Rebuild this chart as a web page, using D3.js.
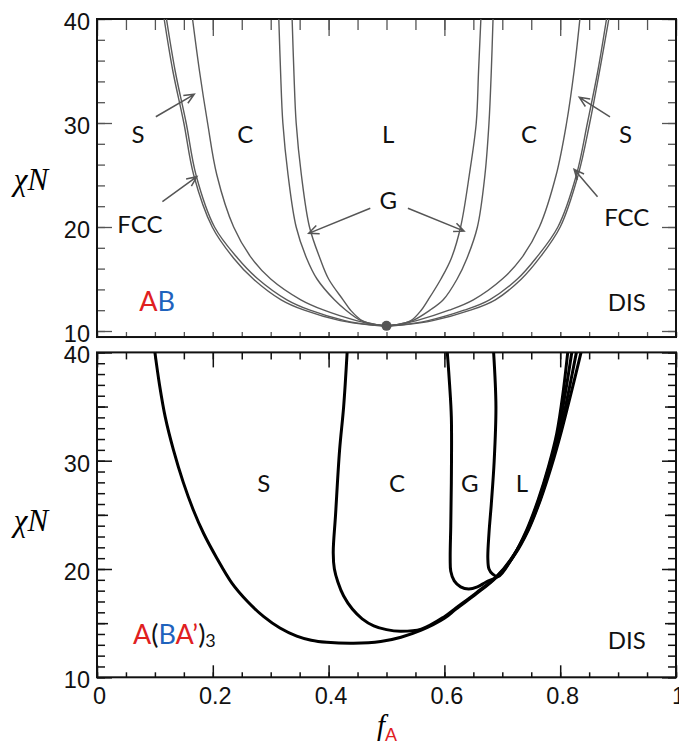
<!DOCTYPE html>
<html>
<head>
<meta charset="utf-8">
<script src="https://cdn.jsdelivr.net/npm/d3@7"></script>
<style>
  body { margin: 0; background: #fff; }
  svg { display: block; }
  .phase { font-family: Lato, "Open Sans", sans-serif; font-size: 24px; fill: #111; }
  .tick text { font-family: "Liberation Sans", Arial, sans-serif; font-size: 23.5px; fill: #111; }
</style>
</head>
<body>
<svg id="chart"></svg>
<script>
// tick values and labels
const fMajor = [0, 0.2, 0.4, 0.6, 0.8, 1];
const fMinor = [0, 0.05, 0.1, 0.15, 0.2, 0.25, 0.3, 0.35, 0.4, 0.45, 0.5, 0.55, 0.6, 0.65, 0.7, 0.75, 0.8, 0.85, 0.9, 0.95, 1];
const fLabels = ["0", "0.2", "0.4", "0.6", "0.8", "1"];
const chiMajor = [10, 20, 30, 40];
const chiLabels = ["10", "20", "30", "40"];
const chiMinorTop = [10, 12, 14, 16, 18, 20, 22, 24, 26, 28, 30, 32, 34, 36, 38, 40];
const chiMinorBot = d3.range(10, 41);
const chiMidBot = [15, 25, 35];

// AB diblock: phase boundaries [fA, chiN]
const abCrit = [0.5, 10.495];
const abDisFcc = [[0.116,40],[0.131,35],[0.150,30],[0.167,25],[0.199,20],[0.236,17],[0.270,15],[0.318,13],[0.358,12],[0.420,11],[0.470,10.6],
  abCrit,[0.530,10.6],[0.580,11],[0.645,12],[0.688,13],[0.733,15],[0.764,17],[0.800,20],[0.831,25],[0.851,30],[0.868,35],[0.884,40]];
const abFccS = [[0.120,40],[0.135,35],[0.154,30],[0.171,25],[0.203,20],[0.243,17],[0.278,15],[0.328,13],[0.368,12],[0.428,11],[0.473,10.6],
  abCrit,[0.527,10.6],[0.572,11],[0.634,12],[0.678,13],[0.726,15],[0.758,17],[0.796,20],[0.828,25],[0.847,30],[0.865,35],[0.880,40]];
const abSC = [[0.165,40],[0.177,35],[0.191,30],[0.207,25],[0.236,20],[0.267,17],[0.300,15],[0.352,13],[0.392,12],[0.448,11],[0.480,10.6],
  abCrit,[0.520,10.6],[0.552,11],[0.608,12],[0.650,13],[0.700,15],[0.733,17],[0.764,20],[0.793,25],[0.811,30],[0.824,35],[0.834,40]];
const abCG = [[0.314,40],[0.317,35],[0.321,30],[0.330,25],[0.344,20],[0.362,17],[0.380,15],[0.410,13],[0.430,12],[0.456,11],[0.483,10.6],
  abCrit,[0.517,10.6],[0.545,11],[0.575,12],[0.598,13],[0.622,15],[0.639,17],[0.657,20],[0.670,25],[0.677,30],[0.681,35],[0.684,40]];
const abGL = [[0.337,40],[0.340,35],[0.344,30],[0.353,25],[0.367,20],[0.385,17],[0.400,15],[0.425,13],[0.438,12],[0.458,11],[0.484,10.6],
  abCrit,[0.516,10.6],[0.542,11],[0.560,12],[0.572,13],[0.594,15],[0.612,17],[0.628,20],[0.643,25],[0.655,30],[0.659,35],[0.663,40]];

// A(BA')3 miktoarm star
const starDisS = [[0.100,40],[0.108,37],[0.118,34],[0.132,31],[0.149,28],[0.166,25.5],[0.184,23.3],[0.207,21],[0.233,18.7],[0.260,17],
  [0.288,15.6],[0.316,14.55],[0.345,13.8],[0.370,13.42],[0.397,13.23],[0.443,13.14],[0.490,13.3],[0.525,13.7],[0.560,14.35],[0.600,15.45],
  [0.620,16.3],[0.655,17.7],[0.690,19.25],[0.720,21.2],[0.745,23.6],[0.766,26.4],[0.785,29.5],[0.801,32.5],[0.820,36.5],[0.836,40]];
const starSC = [[0.432,40],[0.426,35],[0.419,31],[0.412,25],[0.408,21.5],[0.410,20.0],[0.416,18.8],[0.426,17.5],[0.441,16.3],[0.458,15.4],
  [0.478,14.75],[0.500,14.4],[0.524,14.25],[0.560,14.45],[0.600,15.6],[0.620,16.4],[0.655,17.8],[0.690,19.3],[0.720,21.3],[0.744,23.6],
  [0.765,26.4],[0.783,29.5],[0.799,32.5],[0.815,36.5],[0.828,40]];
const starCG = [[0.605,40],[0.609,37],[0.612,34],[0.612,28],[0.611,24],[0.610,21],[0.611,19.8],[0.617,18.9],[0.628,18.35],[0.642,18.15],
  [0.657,18.35],[0.672,18.8],[0.693,19.35],[0.718,21.1],[0.743,23.6],[0.763,26.4],[0.781,29.5],[0.796,32.5],[0.809,36.3],[0.820,40]];
const starGL = [[0.685,40],[0.689,35],[0.686,30],[0.681,26],[0.677,23.3],[0.675,21],[0.677,20],[0.683,19.55],[0.693,19.3],[0.717,21.0],
  [0.742,23.6],[0.762,26.4],[0.780,29.5],[0.794,32.5],[0.805,36.3],[0.813,40]];

// annotation text and arrows, in data units
const topLabels = [["S",0.071,29.0],["C",0.256,29.0],["L",0.503,29.0],["C",0.746,29.0],["S",0.913,29.0],
  ["FCC",0.074,20.3],["FCC",0.915,21.0],["G",0.503,22.6],["DIS",0.915,12.8]];
const topArrows = [[[0.1016,30.6],[0.168,32.76]],[[0.113,22.43],[0.1725,24.84]],[[0.472,21.8],[0.3656,19.39]],
  [[0.537,21.8],[0.634,19.6]],[[0.886,30.6],[0.833,32.47]],[[0.8645,22.9],[0.824,25.55]]];
const botLabels = [["S",0.288,28.0],["C",0.518,28.0],["G",0.644,28.0],["L",0.734,28.0],["DIS",0.915,13.5]];

const width = 679, height = 744;
const svg = d3.select('#chart').attr('width', width).attr('height', height);

const x = d3.scaleLinear().domain([0, 1]).range([97, 676]);
const yTop = d3.scaleLinear().domain([10, 40]).range([331, 19]);
const yBot = d3.scaleLinear().domain([10, 40]).range([677.3, 352.4]);

function ticks(g, axis, values, size, color, width, labels) {
    axis.tickValues(values).tickSize(-size).tickPadding(8)
        .tickFormat(labels ? (d, i) => labels[i] : () => "");
    g.call(axis);
    g.select('.domain').remove();
    g.selectAll('.tick line').attr('stroke', color).attr('stroke-width', width);
}

function panel(ys, yBottom, opts) {
    const top = ys(40), bottom = ys(yBottom), left = x(0), right = x(1);
    const g = svg.append('g');
    const c = opts.color, w = opts.tickWidth;

    // left / right ticks
    ticks(g.append('g').attr('transform', `translate(${left},0)`), d3.axisLeft(ys), opts.yMinor, 8, c, w);
    ticks(g.append('g').attr('transform', `translate(${right},0)`), d3.axisRight(ys), opts.yMinor, 8, c, w);
    if (opts.yMid) {
        ticks(g.append('g').attr('transform', `translate(${left},0)`), d3.axisLeft(ys), opts.yMid, 11, c, w);
        ticks(g.append('g').attr('transform', `translate(${right},0)`), d3.axisRight(ys), opts.yMid, 11, c, w);
    }
    const yl = g.append('g').attr('transform', `translate(${left},0)`);
    ticks(yl, d3.axisLeft(ys), chiMajor, 15, c, w, chiLabels);
    yl.selectAll('.tick text').attr('x', -7).attr('dy', '0.45em');
    ticks(g.append('g').attr('transform', `translate(${right},0)`), d3.axisRight(ys), chiMajor, 14, c, w);

    // top / bottom ticks
    ticks(g.append('g').attr('transform', `translate(0,${top})`), d3.axisTop(x), fMinor, opts.topMinor, c, w);
    ticks(g.append('g').attr('transform', `translate(0,${top})`), d3.axisTop(x), fMajor, opts.topMajor, c, w);
    ticks(g.append('g').attr('transform', `translate(0,${bottom})`), d3.axisBottom(x), fMinor, 5, c, w);
    const xb = g.append('g').attr('transform', `translate(0,${bottom})`);
    ticks(xb, d3.axisBottom(x), fMajor, opts.botMajor, c, w, opts.xLabels ? fLabels : null);
    xb.selectAll('.tick text').attr('dx', 2).attr('dy', '0.8em');

    g.append('rect')
        .attr('x', left).attr('y', top)
        .attr('width', right - left).attr('height', bottom - top)
        .attr('fill', 'none').attr('stroke', '#111').attr('stroke-width', 2);

    const id = opts.id;
    svg.append('clipPath').attr('id', id)
        .append('rect').attr('x', left).attr('y', top)
        .attr('width', right - left).attr('height', bottom - top);

    // y title
    svg.append('text')
        .attr('x', 31).attr('y', ys(opts.titleAt))
        .attr('text-anchor', 'middle').attr('dominant-baseline', 'central')
        .style('font-family', '"Liberation Serif", "Times New Roman", serif')
        .style('font-style', 'italic').style('font-size', '31px')
        .text('χN');
    return svg.append('g').attr('clip-path', `url(#${id})`);
}

const topG = panel(yTop, 9.42, {id: 'clipTop', color: '#555', tickWidth: 1.3, yMinor: chiMinorTop,
    topMinor: 11, topMajor: 17, botMajor: 5, xLabels: false, titleAt: 24.6});
const botG = panel(yBot, 10, {id: 'clipBot', color: '#111', tickWidth: 1.5, yMinor: chiMinorBot, yMid: chiMidBot,
    topMinor: 7, topMajor: 15, botMajor: 12, xLabels: true, titleAt: 24.5});

const curve = d3.curveCatmullRom.alpha(0.5);
const lineTop = d3.line().x(d => x(d[0])).y(d => yTop(d[1])).curve(curve);
const lineBot = d3.line().x(d => x(d[0])).y(d => yBot(d[1])).curve(curve);

topG.selectAll('path.boundary')
    .data([abDisFcc, abFccS, abSC, abCG, abGL])
    .enter().append('path')
    .attr('class', 'boundary')
    .attr('d', lineTop)
    .attr('fill', 'none').attr('stroke', '#5a5a5a').attr('stroke-width', 1.4);

topG.append('circle')
    .attr('cx', x(abCrit[0])).attr('cy', yTop(abCrit[1]))
    .attr('r', 5).attr('fill', '#555');

botG.selectAll('path.boundary')
    .data([starDisS, starSC, starCG, starGL])
    .enter().append('path')
    .attr('class', 'boundary')
    .attr('d', lineBot)
    .attr('fill', 'none').attr('stroke', '#000').attr('stroke-width', 3)
    .attr('stroke-linejoin', 'round');

function phaseLabels(labels, ys) {
    svg.selectAll(null)
        .data(labels)
        .enter().append('text')
        .attr('class', 'phase')
        .attr('x', d => x(d[1])).attr('y', d => ys(d[2]))
        .attr('text-anchor', 'middle').attr('dominant-baseline', 'central')
        .text(d => d[0]);
}
phaseLabels(topLabels, yTop);
phaseLabels(botLabels, yBot);

// open arrowheads
topArrows.forEach(([a, b]) => {
    const x0 = x(a[0]), y0 = yTop(a[1]), x1 = x(b[0]), y1 = yTop(b[1]);
    const ang = Math.atan2(y1 - y0, x1 - x0);
    const head = 11, spread = 0.42;
    const p = d3.path();
    p.moveTo(x0, y0); p.lineTo(x1, y1);
    p.moveTo(x1 - head * Math.cos(ang - spread), y1 - head * Math.sin(ang - spread));
    p.lineTo(x1, y1);
    p.lineTo(x1 - head * Math.cos(ang + spread), y1 - head * Math.sin(ang + spread));
    svg.append('path').attr('d', p.toString())
        .attr('fill', 'none').attr('stroke', '#555').attr('stroke-width', 1.5);
});

const red = '#e0201f', blue = '#1f63bd';
const ab = svg.append('text')
    .attr('x', x(0.073)).attr('y', yTop(13.0))
    .attr('dominant-baseline', 'central')
    .style('font-family', 'Lato, "Open Sans", sans-serif').style('font-size', '27px');
ab.append('tspan').attr('fill', red).text('A');
ab.append('tspan').attr('fill', blue).text('B');

const star = svg.append('text')
    .attr('x', x(0.062)).attr('y', yBot(14.1))
    .attr('dominant-baseline', 'central')
    .style('font-family', 'Lato, "Open Sans", sans-serif').style('font-size', '27px');
star.append('tspan').attr('fill', red).text('A');
star.append('tspan').attr('fill', '#111').text('(');
star.append('tspan').attr('fill', blue).text('B');
star.append('tspan').attr('fill', red).text('A’');
star.append('tspan').attr('fill', '#111').text(')');
star.append('tspan').attr('fill', '#111').attr('dy', 7).style('font-size', '18px').text('3');

const xt = svg.append('text')
    .attr('x', 377).attr('y', 735)
    .style('font-family', '"Liberation Serif", "Times New Roman", serif')
    .style('font-style', 'italic').style('font-size', '29px');
xt.append('tspan').text('f');
xt.append('tspan').attr('fill', red).attr('dy', 6)
    .style('font-family', '"Liberation Sans", Arial, sans-serif')
    .style('font-style', 'normal').style('font-size', '18px').text('A');
</script>
</body>
</html>
